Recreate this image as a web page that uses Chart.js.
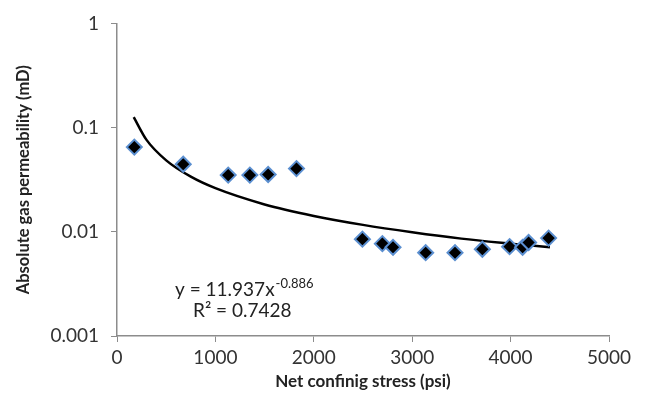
<!DOCTYPE html>
<html>
<head>
<meta charset="utf-8">
<script src="https://cdn.jsdelivr.net/npm/chart.js@4.4.0/dist/chart.umd.min.js"></script>
<style>
  html, body { margin: 0; padding: 0; background: #fff; }
  #wrap { width: 646px; height: 400px; position: relative; }
</style>
</head>
<body>
<div id="wrap"><canvas id="perm-chart"></canvas></div>
<script>
// measured samples: net confining stress (psi) vs permeability (mD)
const stressPsi = [176, 673, 1130, 1350, 1536, 1824, 2494, 2697, 2805, 3137, 3435, 3713, 3990, 4122, 4183, 4386];
const permMd = [0.065, 0.0445, 0.035, 0.035, 0.0355, 0.0404, 0.0085, 0.0077, 0.0071, 0.0063, 0.0063, 0.0068, 0.0072, 0.0071, 0.0079, 0.0087];

// power trendline as drawn on the figure
const trendX = [170, 300, 500, 750, 1000, 1500, 2000, 2500, 3000, 3500, 4000, 4400];
const trendY = [0.126, 0.0762, 0.0485, 0.0338, 0.0262, 0.0183, 0.0142, 0.01165, 0.0099, 0.0086, 0.0077, 0.0071];

const yTicks = [0.001, 0.01, 0.1, 1];
const equationText = 'y = 11.937x';
const exponentText = '-0.886';
const r2Text = 'R² = 0.7428';

const FONT = 'Lato, "Open Sans", sans-serif';
const AXIS_GREY = '#8c8c8c';

document.addEventListener('DOMContentLoaded', function() {
    initPermeabilityChart();
});

function initPermeabilityChart() {
    const ctx = document.getElementById('perm-chart');
    if (!ctx) return;

    const equationLabel = {
        id: 'equationLabel',
        afterDatasetsDraw(chart) {
            const c = chart.ctx;
            const area = chart.chartArea;
            c.save();
            c.fillStyle = '#222';
            c.textBaseline = 'alphabetic';
            c.font = '19px ' + FONT;
            const x0 = area.left + 58;
            const y0 = area.top + 273;
            c.fillText(equationText, x0, y0);
            const w = c.measureText(equationText).width;
            c.font = '13px ' + FONT;
            c.fillText(exponentText, x0 + w + 1, y0 - 8);
            c.font = '19px ' + FONT;
            c.fillText(r2Text, x0 + 18, y0 + 21);
            c.restore();
        }
    };

    new Chart(ctx.getContext('2d'), {
        type: 'scatter',
        data: {
            datasets: [
                {
                    label: 'Trend',
                    data: trendX.map((x, i) => ({ x: x, y: trendY[i] })),
                    showLine: true,
                    borderColor: '#000',
                    borderWidth: 2.5,
                    pointRadius: 0,
                    cubicInterpolationMode: 'monotone',
                    order: 2
                },
                {
                    label: 'Permeability',
                    data: stressPsi.map((x, i) => ({ x: x, y: permMd[i] })),
                    pointStyle: 'rectRot',
                    pointRadius: 7.5,
                    pointBackgroundColor: '#000',
                    pointBorderColor: '#5b8fd0',
                    pointBorderWidth: 2,
                    order: 1
                }
            ]
        },
        options: {
            responsive: true,
            maintainAspectRatio: false,
            animation: false,
            layout: { padding: { top: 20, right: 37, left: 0, bottom: 0 } },
            plugins: {
                legend: { display: false },
                tooltip: { enabled: false }
            },
            scales: {
                x: {
                    type: 'linear',
                    min: 0,
                    max: 5000,
                    ticks: {
                        stepSize: 1000,
                        color: '#333',
                        font: { family: FONT, size: 19 },
                        padding: 4,
                        maxRotation: 0,
                        callback: v => String(v)
                    },
                    grid: {
                        display: true,
                        drawOnChartArea: false,
                        drawTicks: true,
                        tickLength: 6,
                        color: AXIS_GREY
                    },
                    border: { color: AXIS_GREY, width: 1.5 },
                    title: {
                        display: true,
                        text: 'Net confinig stress (psi)',
                        color: '#222',
                        font: { family: FONT, size: 17, weight: 'bold' },
                        padding: { top: 4, bottom: 8 }
                    },
                    afterFit(axis) { axis.height = 64; }
                },
                y: {
                    type: 'logarithmic',
                    min: 0.001,
                    max: 1,
                    afterBuildTicks(axis) {
                        axis.ticks = yTicks.map(v => ({ value: v }));
                    },
                    ticks: {
                        color: '#333',
                        font: { family: FONT, size: 19 },
                        padding: 12,
                        callback: v => String(v)
                    },
                    grid: {
                        display: true,
                        drawOnChartArea: false,
                        drawTicks: true,
                        tickLength: 6,
                        color: AXIS_GREY
                    },
                    border: { color: AXIS_GREY, width: 1.5 },
                    title: {
                        display: true,
                        text: 'Absolute gas permeability (mD)',
                        color: '#222',
                        font: { family: FONT, size: 16.5, weight: 'bold' },
                        padding: { top: 14, bottom: 0 }
                    },
                    afterFit(axis) { axis.width = 117; }
                }
            }
        },
        plugins: [equationLabel]
    });
}
</script>
</body>
</html>
